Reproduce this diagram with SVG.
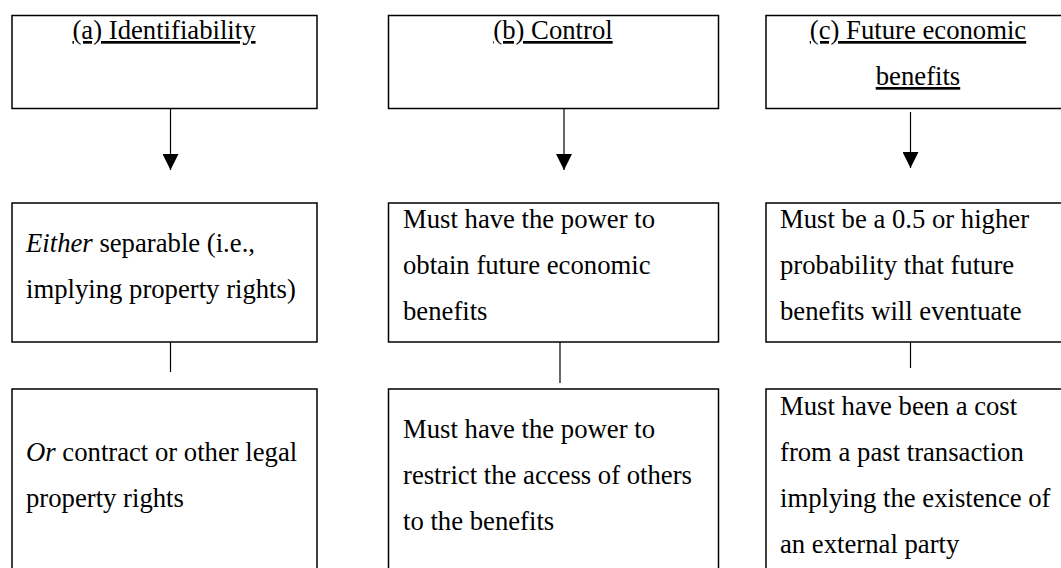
<svg xmlns="http://www.w3.org/2000/svg" width="1061" height="568" viewBox="0 0 1061 568">
<defs>
<marker id="ah" markerUnits="userSpaceOnUse" markerWidth="16" markerHeight="16" viewBox="0 0 16 16" refX="16" refY="8" orient="auto">
<path d="M0,0 L16,8 L0,16 z" fill="#000"/>
</marker>
</defs>
<rect width="1061" height="568" fill="#fff"/>
<g id="connectors" stroke="#000" stroke-width="1.2" fill="none">
<line x1="170.5" y1="109" x2="170.5" y2="170" marker-end="url(#ah)"/>
<line x1="564" y1="109" x2="564" y2="170" marker-end="url(#ah)"/>
<line x1="910.5" y1="112" x2="910.5" y2="168" marker-end="url(#ah)"/>
<line x1="170.5" y1="342" x2="170.5" y2="372"/>
<line x1="560" y1="342" x2="560" y2="383"/>
<line x1="910.5" y1="342" x2="910.5" y2="368"/>
</g>
<g id="a-top">
<rect x="12" y="15.5" width="305" height="93" fill="#fff" stroke="#000" stroke-width="1.5"/>
<text x="164" y="39" font-family="Liberation Serif" font-size="26.7" text-anchor="middle" text-decoration="underline">(a) Identifiability</text>
</g>
<g id="b-top">
<rect x="388.5" y="15.5" width="330" height="93" fill="#fff" stroke="#000" stroke-width="1.5"/>
<text x="553" y="39" font-family="Liberation Serif" font-size="26.7" text-anchor="middle" text-decoration="underline">(b) Control</text>
</g>
<g id="c-top">
<rect x="766" y="15.5" width="304" height="93" fill="#fff" stroke="#000" stroke-width="1.5"/>
<text x="918" y="39" font-family="Liberation Serif" font-size="26.7" text-anchor="middle" text-decoration="underline">(c) Future economic</text>
<text x="918" y="85" font-family="Liberation Serif" font-size="26.7" text-anchor="middle" text-decoration="underline">benefits</text>
</g>
<g id="a-mid">
<rect x="12" y="203" width="305" height="139" fill="#fff" stroke="#000" stroke-width="1.5"/>
<text x="26" y="252" font-family="Liberation Serif" font-size="26.7"><tspan font-style="italic">Either</tspan> separable (i.e.,</text>
<text x="26" y="298" font-family="Liberation Serif" font-size="26.7">implying property rights)</text>
</g>
<g id="b-mid">
<rect x="388.5" y="203" width="330" height="139" fill="#fff" stroke="#000" stroke-width="1.5"/>
<text x="403" y="228" font-family="Liberation Serif" font-size="26.7">Must have the power to</text>
<text x="403" y="274" font-family="Liberation Serif" font-size="26.7">obtain future economic</text>
<text x="403" y="320" font-family="Liberation Serif" font-size="26.7">benefits</text>
</g>
<g id="c-mid">
<rect x="766" y="203" width="304" height="139" fill="#fff" stroke="#000" stroke-width="1.5"/>
<text x="780" y="228" font-family="Liberation Serif" font-size="26.7">Must be a 0.5 or higher</text>
<text x="780" y="274" font-family="Liberation Serif" font-size="26.7">probability that future</text>
<text x="780" y="320" font-family="Liberation Serif" font-size="26.7">benefits will eventuate</text>
</g>
<g id="a-bot">
<rect x="12" y="389" width="305" height="190" fill="#fff" stroke="#000" stroke-width="1.5"/>
<text x="26" y="461" font-family="Liberation Serif" font-size="26.7"><tspan font-style="italic">Or</tspan> contract or other legal</text>
<text x="26" y="507" font-family="Liberation Serif" font-size="26.7">property rights</text>
</g>
<g id="b-bot">
<rect x="388.5" y="389" width="330" height="190" fill="#fff" stroke="#000" stroke-width="1.5"/>
<text x="403" y="438" font-family="Liberation Serif" font-size="26.7">Must have the power to</text>
<text x="403" y="484" font-family="Liberation Serif" font-size="26.7">restrict the access of others</text>
<text x="403" y="530" font-family="Liberation Serif" font-size="26.7">to the benefits</text>
</g>
<g id="c-bot">
<rect x="766" y="389" width="304" height="190" fill="#fff" stroke="#000" stroke-width="1.5"/>
<text x="780" y="415" font-family="Liberation Serif" font-size="26.7">Must have been a cost</text>
<text x="780" y="461" font-family="Liberation Serif" font-size="26.7">from a past transaction</text>
<text x="780" y="507" font-family="Liberation Serif" font-size="26.7">implying the existence of</text>
<text x="780" y="553" font-family="Liberation Serif" font-size="26.7">an external party</text>
</g>
</svg>
